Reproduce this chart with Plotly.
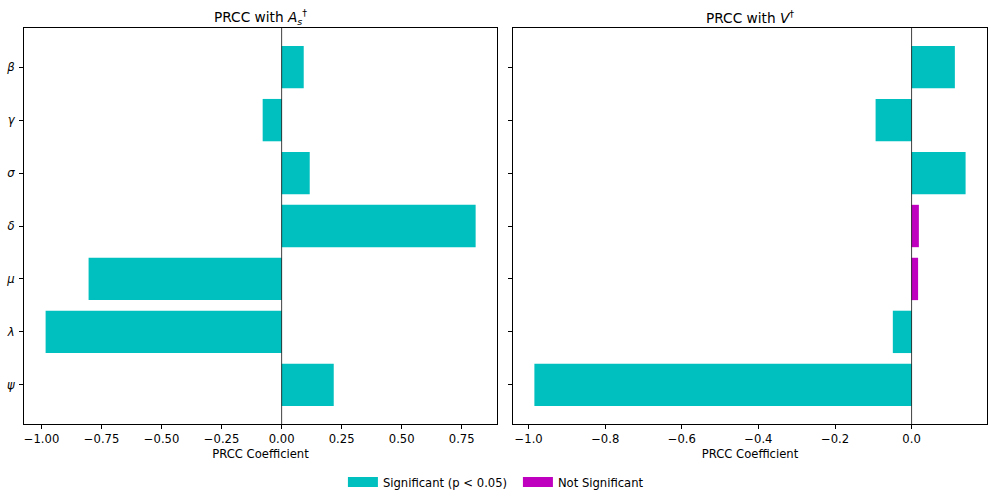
import plotly.graph_objects as go

params = ["β", "γ", "σ", "δ", "μ", "λ", "ψ"]
prcc_As = [0.092, -0.079, 0.117, 0.808, -0.804, -0.983, 0.217]
sig_As = [True, True, True, True, True, True, True]
prcc_V = [0.113, -0.094, 0.141, 0.019, 0.017, -0.049, -0.985]
sig_V = [True, True, True, False, False, True, True]

titles = ["PRCC with <i>A</i><sub><i>s</i></sub><sup>†</sup>", "PRCC with <i>V</i><sup>†</sup>"]
xlabel = "PRCC Coefficient"
legend_names = ["Significant (p &lt; 0.05)", "Not Significant"]
colors = ["#00BFBF", "#BF00BF"]

FONT = "DejaVu Sans"
FS = 11.6
fig = go.Figure()

labels = [f"<i>{p}</i>" for p in params]
for k, (vals, sig) in enumerate([(prcc_As, sig_As), (prcc_V, sig_V)]):
    xa = "x" if k == 0 else "x2"
    ya = "y" if k == 0 else "y2"
    for cls, flag in enumerate([True, False]):
        xs = [v for v, s in zip(vals, sig) if s == flag]
        ys = [l for l, s in zip(labels, sig) if s == flag]
        if not xs:
            continue
        fig.add_trace(go.Bar(
            x=xs, y=ys, orientation="h",
            width=0.8, marker=dict(color=colors[cls], line=dict(width=0)),
            name=legend_names[cls], legendgroup=str(cls),
            showlegend=False, xaxis=xa, yaxis=ya,
        ))
    fig.add_shape(type="line", xref=xa, yref=f"{ya} domain", x0=0, x1=0, y0=0, y1=1,
                  line=dict(color="rgba(0,0,0,0.75)", width=1))

# legend entries (wide rectangular swatches like matplotlib patches)
for cls in range(2):
    fig.add_trace(go.Scatter(
        x=[None], y=[None], mode="lines", line=dict(color=colors[cls], width=10),
        name=legend_names[cls], legendgroup=str(cls), showlegend=True,
        xaxis="x", yaxis="y",
    ))

axis_common = dict(showline=True, linecolor="black", linewidth=1, mirror=True,
                   ticks="outside", ticklen=4, tickcolor="black", showgrid=False,
                   zeroline=False, tickfont=dict(family=FONT, size=FS, color="black"))

fig.update_layout(
    width=996, height=500, margin=dict(l=0, r=0, t=0, b=0),
    plot_bgcolor="white", paper_bgcolor="white", barmode="overlay",
    font=dict(family=FONT, size=FS, color="black"),
    xaxis=dict(domain=[0.0241, 0.499], anchor="y", range=[-1.073, 0.897],
               tickvals=[-1.0, -0.75, -0.5, -0.25, 0.0, 0.25, 0.5, 0.75],
               ticktext=["−1.00", "−0.75", "−0.50", "−0.25", "0.00", "0.25", "0.50", "0.75"],
               title=dict(text=xlabel, standoff=4, font=dict(family=FONT, size=FS)),
               **axis_common),
    xaxis2=dict(domain=[0.515, 0.991], anchor="y2", range=[-1.041, 0.197],
                tickvals=[-1.0, -0.8, -0.6, -0.4, -0.2, 0.0],
                ticktext=["−1.0", "−0.8", "−0.6", "−0.4", "−0.2", "0.0"],
                title=dict(text=xlabel, standoff=4, font=dict(family=FONT, size=FS)),
                **axis_common),
    yaxis=dict(domain=[0.152, 0.944], anchor="x", type="category",
               categoryorder="array", categoryarray=labels, range=[6.74, -0.74],
               ticklabelstandoff=2, **axis_common),
    yaxis2=dict(domain=[0.152, 0.944], anchor="x2", type="category",
                categoryorder="array", categoryarray=labels, range=[6.74, -0.74],
                showticklabels=False, **axis_common),
    legend=dict(orientation="h", x=0.52, xanchor="center", y=0.036, yanchor="middle",
                font=dict(family=FONT, size=FS), traceorder="normal",
                bordercolor="rgba(0,0,0,0)", itemwidth=30, entrywidth=130),
    annotations=[
        dict(text=titles[0], x=0.2616, y=0.966, xref="paper", yref="paper",
             xanchor="center", showarrow=False, font=dict(family=FONT, size=13.7),
             yanchor="middle"),
        dict(text=titles[1], x=0.753, y=0.966, xref="paper", yref="paper",
             xanchor="center", showarrow=False, font=dict(family=FONT, size=13.7),
             yanchor="middle"),
    ],
)

fig.write_html("out.html", config={"displayModeBar": False},
               post_script="document.body.style.margin='0px';")
